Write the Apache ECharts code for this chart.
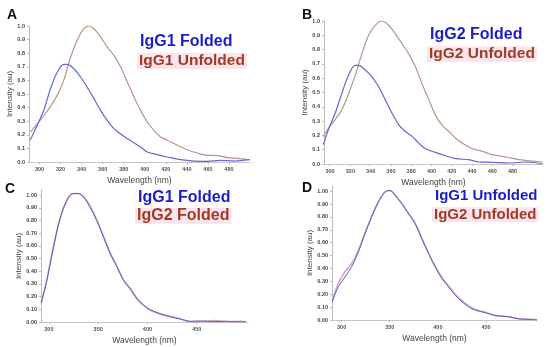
<!DOCTYPE html>
<html><head><meta charset="utf-8">
<script src="https://cdn.jsdelivr.net/npm/echarts@6/dist/echarts.min.js"></script>
<style>html,body{margin:0;padding:0;background:#fff}#c{width:550px;height:347px}</style>
</head><body><div id="c"></div>
<script>
// Panel A
const wlA1 = [291.4,297.8,304,310.5,316.8,323,326.3,332.6,339,345.3,351.7,358,364.3,370.7,377,383.3,389.7,396,402.4,412,421.4,434,446.7,459.4,472,484.8,500];
const inA1 = [0.164,0.27,0.38,0.54,0.66,0.718,0.718,0.686,0.625,0.55,0.466,0.38,0.306,0.245,0.208,0.172,0.142,0.11,0.074,0.054,0.037,0.017,0.007,0.005,0.012,0.007,0.017];
const wlA2 = [291.4,297.8,304,310.5,316.8,323,329.5,335.8,342.1,347,351.7,358,364.3,370.7,377,383.3,389.7,396,402.4,408.7,415,421.4,430.9,440.4,449.9,459.4,468.9,478.4,487.9,497.4];
const inA2 = [0.22,0.28,0.34,0.41,0.49,0.60,0.77,0.895,0.98,1.0,0.98,0.92,0.846,0.784,0.70,0.59,0.478,0.38,0.294,0.233,0.184,0.16,0.123,0.09,0.066,0.049,0.047,0.032,0.027,0.02];
// Panel B
const wlB1 = [293.4,298.3,305,311.6,318.2,324.8,328,334.7,341.3,347.9,354.5,361.1,367.7,374.3,380.9,387.5,394.1,404,414,423.9,437,447,460,476.7,493.2,509.7];
const inB1 = [0.135,0.24,0.355,0.494,0.62,0.69,0.69,0.657,0.61,0.54,0.448,0.355,0.274,0.227,0.193,0.146,0.107,0.081,0.058,0.037,0.03,0.014,0.012,0.007,0.014,0.0];
const wlB2 = [293.4,298.3,305,311.6,318.2,324.8,331.4,338,344.6,351.2,357.8,364.4,371,377.6,384.2,390.8,397.4,404,410.7,417.3,423.9,430.5,440.4,450.3,460.2,473.4,486.6,499.8,509.7];
const inB2 = [0.19,0.25,0.31,0.38,0.49,0.62,0.77,0.90,0.97,1.0,0.97,0.91,0.84,0.77,0.68,0.56,0.45,0.34,0.27,0.227,0.18,0.146,0.107,0.088,0.065,0.049,0.03,0.02,0.014];
// Panel C
const wlC = [292.2,297.3,304.1,310.9,317.7,324.5,329.7,334.8,341.6,348.4,355.2,362,368.9,375.7,382.5,389.3,396.1,402.9,413.2,423.4,433.6,443.9,454.1,467.7,481.4,495,500];
const inC1 = [0.149,0.306,0.568,0.80,0.948,1.013,1.013,0.987,0.908,0.80,0.673,0.54,0.437,0.332,0.267,0.188,0.136,0.097,0.065,0.039,0.024,0.005,0.008,0.003,0.006,0.0,0.004];
const inC2 = [0.152,0.31,0.575,0.805,0.95,1.01,1.01,0.992,0.915,0.808,0.68,0.548,0.442,0.328,0.258,0.18,0.128,0.092,0.062,0.045,0.022,0.003,0.004,0.012,0.002,0.005,0.0];
// Panel D
const wlD = [290.3,296.5,303.5,310.4,317.4,324.3,331.2,338.2,345.1,350.3,355.6,362.5,369.4,376.4,383.3,390.3,397.2,404.2,411.1,418,425,431.9,438.9,449.3,459.7,473.6,484,494.4,503];
const inD1 = [0.142,0.258,0.335,0.412,0.528,0.67,0.80,0.915,0.992,1.005,0.966,0.902,0.825,0.747,0.631,0.515,0.412,0.322,0.258,0.193,0.142,0.103,0.077,0.057,0.034,0.026,0.008,0.005,0.0];
const inD2 = [0.15,0.283,0.374,0.438,0.54,0.675,0.805,0.918,0.995,1.005,0.97,0.905,0.83,0.752,0.636,0.52,0.418,0.33,0.265,0.2,0.15,0.11,0.082,0.06,0.036,0.024,0.01,0.006,0.002];
// Tick labels
const xTicksAB = [300,320,340,360,380,400,420,440,460,480];
const xTicksCD = [300,350,400,450];
const yTicks = [0,0.1,0.2,0.3,0.4,0.5,0.6,0.7,0.8,0.9,1.0];

const pair = (w, v) => w.map((x, i) => [x, v[i]]);
const font = 'Liberation Sans, Arial, sans-serif';
const grids = [
  {left:29, top:26, width:221, height:136},
  {left:324, top:21, width:219, height:143},
  {left:41, top:190, width:207, height:132},
  {left:332, top:186, width:205, height:134}
];
const xr = [[290,500],[294,510],[292,502],[290,503]];
const xAxes = grids.map((g, i) => ({
  type:'value', gridIndex:i, min:xr[i][0], max:xr[i][1],
  name:'Wavelength (nm)', nameLocation:'middle', nameGap:14,
  nameTextStyle:{fontFamily:font, fontSize:8.5, color:'#444'},
  splitLine:{show:false},
  axisLine:{lineStyle:{color:'#bbb', type:'dotted', width:1}},
  axisTick:{customValues:i<2?xTicksAB:xTicksCD, length:2, lineStyle:{color:'#bbb'}},
  axisLabel:{customValues:i<2?xTicksAB:xTicksCD, fontFamily:font, fontSize:5.5, fontWeight:'bold', color:'#555', margin:4}
}));
const yAxes = grids.map((g, i) => ({
  type:'value', gridIndex:i, min:0, max:i<2?1.0:1.04,
  name:'Intensity (au)', nameLocation:'middle', nameGap:i<2?15:18,
  nameTextStyle:{fontFamily:font, fontSize:8, color:'#444'},
  splitLine:{show:false},
  axisLine:{show:true, lineStyle:{color:'#bbb', width:1}},
  axisTick:{show:true, customValues:yTicks, length:2, lineStyle:{color:'#bbb'}},
  axisLabel:{customValues:yTicks, fontFamily:font, fontSize:5.5, fontWeight:'bold', color:'#444', margin:4,
    formatter: v => i<2 ? v.toFixed(1) : v.toFixed(2)}
}));
const blue = '#6666d4', red = '#b89585';
const mk = (idx, d, color, w, z) => ({type:'line', xAxisIndex:idx, yAxisIndex:idx, data:d, showSymbol:false, smooth:0.35,
  lineStyle:{color, width:w}, z});
const series = [
  mk(0, pair(wlA2, inA2), red, 1.2, 2),
  mk(0, pair(wlA1, inA1), blue, 1.2, 3),
  mk(1, pair(wlB2, inB2), red, 1.2, 2),
  mk(1, pair(wlB1, inB1), blue, 1.2, 3),
  mk(2, pair(wlC, inC2), '#d2a8c4', 1.6, 2),
  mk(2, pair(wlC, inC1), '#6a58c0', 1.0, 3),
  mk(3, pair(wlD, inD2), '#d2a8c4', 1.6, 2),
  mk(3, pair(wlD, inD1), '#6a58c0', 1.0, 3)
];
const tb = '#1c1cc8', tr = '#9e3c22', pink = '#fde4ee';
const txt = (x, y, t, c, bg, fs) => ({type:'text', left:x, top:y, z:10, style:{text:t, fill:c, font:'bold ' + (fs || 16) + 'px ' + font,
  backgroundColor:bg || null, padding: bg ? [0,2,0,2] : 0}});
const letter = (x, y, t) => ({type:'text', left:x, top:y, z:10, style:{text:t, fill:'#111', font:'bold 14px ' + font}});
const graphic = [
  letter(7, 8, 'A'), letter(302, 8, 'B'), letter(5, 182, 'C'), letter(302, 181, 'D'),
  txt(140, 34, 'IgG1 Folded', tb), txt(137, 53, 'IgG1 Unfolded', tr, pink, 15.5),
  txt(430, 27, 'IgG2 Folded', tb), txt(427, 46, 'IgG2 Unfolded', tr, pink, 15.5),
  txt(138, 190, 'IgG1 Folded', tb), txt(135, 208, 'IgG2 Folded', tr, pink),
  txt(435, 188, 'IgG1 Unfolded', tb, null, 15), txt(432, 207, 'IgG2 Unfolded', tr, pink, 15)
];
const chart = echarts.init(document.getElementById('c'), null, {renderer:'canvas'});
chart.setOption({animation:false, backgroundColor:'#fff', grid:grids, xAxis:xAxes, yAxis:yAxes, series, graphic});
</script></body></html>
